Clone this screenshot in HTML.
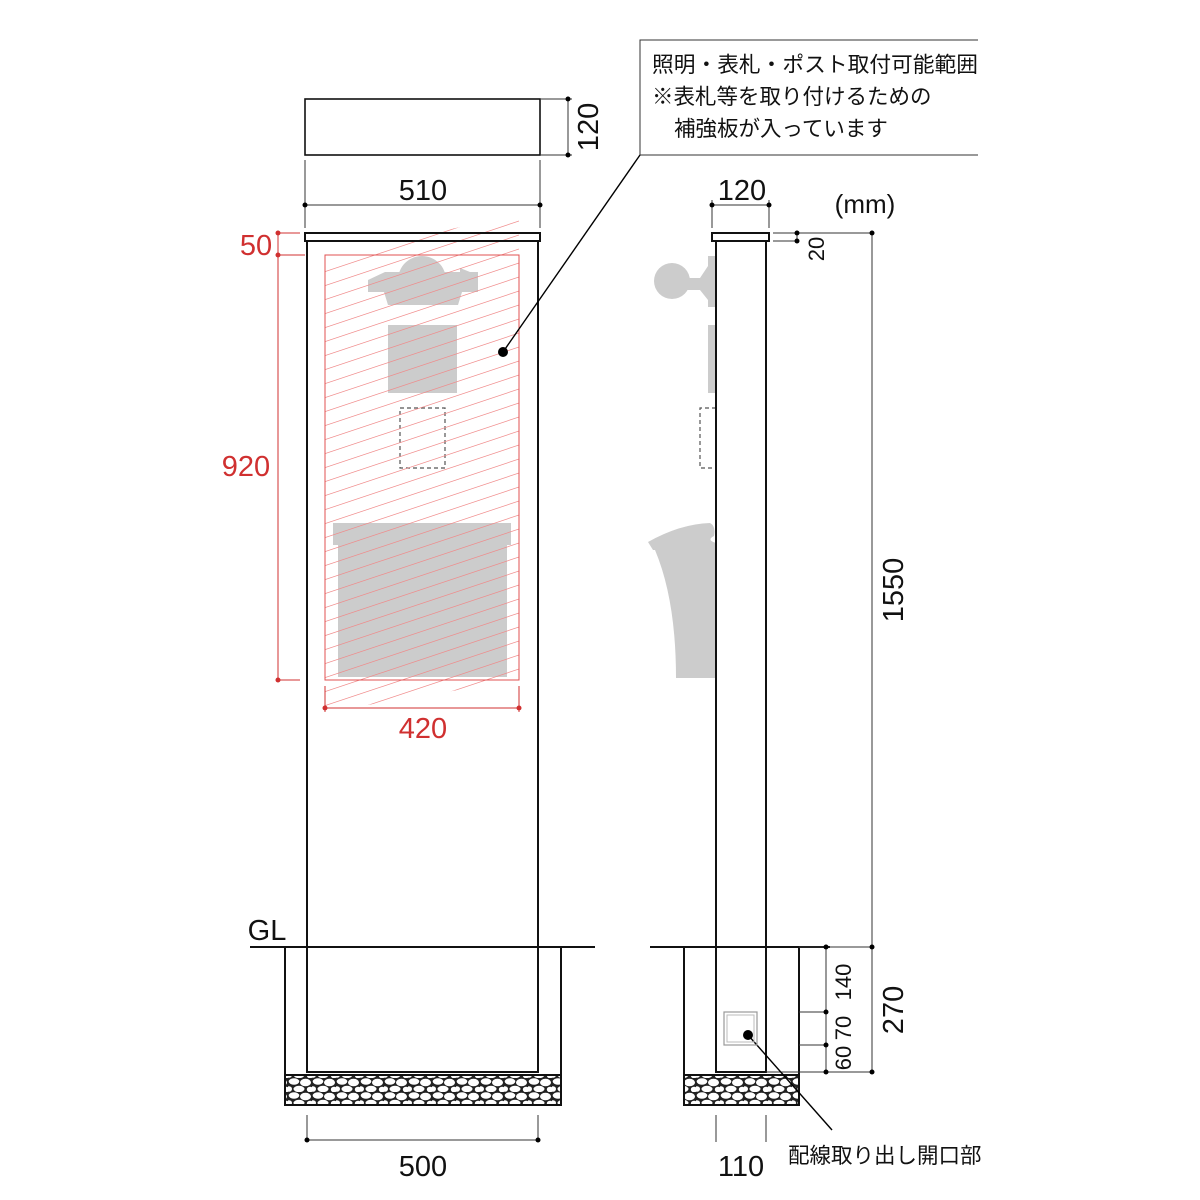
<!DOCTYPE html>
<html><head><meta charset="utf-8"><style>
body{margin:0;background:#fff}
svg{display:block}
text{font-family:"Liberation Sans","Noto Sans CJK JP",sans-serif}
</style></head><body>
<svg width="1200" height="1200" viewBox="0 0 1200 1200" xmlns="http://www.w3.org/2000/svg">
<defs>
<clipPath id="hc"><polygon points="325,255 519,215 519,680 325,712"/></clipPath>
<pattern id="gr" width="24" height="14" patternUnits="userSpaceOnUse">
<rect width="24" height="14" fill="#222"/>
<ellipse cx="6" cy="3.5" rx="5.3" ry="3.2" fill="#fff"/><ellipse cx="17.5" cy="4.5" rx="5.5" ry="3.8" fill="#fff"/>
<ellipse cx="11" cy="11" rx="5.5" ry="3.2" fill="#fff"/><ellipse cx="22" cy="11.5" rx="3.2" ry="2.8" fill="#fff"/>
<ellipse cx="1" cy="11" rx="3" ry="2.8" fill="#fff"/>
</pattern>
</defs>
<g fill="#ccc">
<circle cx="422" cy="280" r="24"/>
<path d="M385,272 H460 V268 L470,272 H478 V292 H462 L458,305 H388 L384,292 H368 V280 Z"/>
<rect x="388" y="325" width="69" height="68"/>
<path d="M333,523 H511 V545 H507 V677 H338 V545 H333 Z"/>
<circle cx="672" cy="281" r="18"/>
<path d="M686,278 H700 L708,266 V256 H716 V307 H708 V300 L700,290 H686 Z"/>
<rect x="708" y="325" width="8" height="68"/>
<path d="M648,542 Q680,524 710,523 Q716,526 714,536 Q706,540 716,543 V678 H676 Q676,600 655,550 L653,550 Z"/>
</g>
<g fill="none" stroke="#555" stroke-dasharray="4,3" stroke-width="1.2">
<rect x="400" y="408" width="45" height="60"/>
<path d="M716,408 H700 V468 H716"/>
</g>
<g clip-path="url(#hc)" stroke="#f08a8a" stroke-width="0.7" fill="none">
<path d="M300,280 L540,200 M300,294 L540,214 M300,308 L540,228 M300,322 L540,242 M300,336 L540,256 M300,350 L540,270 M300,364 L540,284 M300,378 L540,298 M300,392 L540,312 M300,406 L540,326 M300,420 L540,340 M300,434 L540,354 M300,448 L540,368 M300,462 L540,382 M300,476 L540,396 M300,490 L540,410 M300,504 L540,424 M300,518 L540,438 M300,532 L540,452 M300,546 L540,466 M300,560 L540,480 M300,574 L540,494 M300,588 L540,508 M300,602 L540,522 M300,616 L540,536 M300,630 L540,550 M300,644 L540,564 M300,658 L540,578 M300,672 L540,592 M300,686 L540,606 M300,700 L540,620 M300,714 L540,634 M300,728 L540,648 M300,742 L540,662 M300,756 L540,676 M300,770 L540,690 M300,784 L540,704"/>
</g>
<rect x="325" y="255" width="194" height="425" fill="none" stroke="#e05050" stroke-width="1"/>
<g stroke="#111" fill="none" stroke-width="2">
<rect x="305" y="99" width="235" height="56" stroke-width="1.6"/>
<rect x="305" y="233" width="235" height="8"/>
<path d="M307,241 V1072 H538 V241"/>
<path d="M250,947 H595"/>
<path d="M285,947 V1077 M561,947 V1077"/>
<rect x="712" y="233" width="57" height="8"/>
<path d="M716,241 V1072 H766 V241"/>
<path d="M650,947 H830"/>
<path d="M684,947 V1077 M799,947 V1077"/>
</g>
<rect x="285" y="1075" width="276" height="30" fill="url(#gr)" stroke="#111" stroke-width="2"/>
<rect x="684" y="1075" width="115" height="30" fill="url(#gr)" stroke="#111" stroke-width="2"/>
<g stroke="#333" stroke-width="1" fill="none">
<path d="M540,99 H572 M540,155 H572 M568,99 V155"/>
<path d="M305,160 V228 M540,160 V228 M305,205 H540"/>
<path d="M307,1115 V1142 M538,1115 V1142 M307,1140 H538"/>
<path d="M712,200 V228 M769,200 V228 M712,205 H769"/>
<path d="M773,233 H872 M773,241 H797 M797,233 V241 M872,233 V1072"/>
<path d="M799,947 H872 M799,1012 H826 M799,1045 H826 M766,1072 H872 M826,947 V1072"/>
<path d="M716,1115 V1142 M766,1115 V1142"/>
<path d="M640,155 V40 H978 M640,155 H978"/>
<path d="M503,352 L640,155" stroke="#000" stroke-width="1.4"/>
<path d="M748,1035 L832,1130" stroke="#000" stroke-width="1.4"/>
</g>
<rect x="724" y="1012" width="33" height="33" fill="none" stroke="#999" stroke-width="1.2"/>
<rect x="727" y="1015" width="27" height="27" fill="none" stroke="#bbb" stroke-width="1"/>
<g fill="#000">
<circle cx="568" cy="99" r="2.5"/><circle cx="568" cy="155" r="2.5"/>
<circle cx="305" cy="205" r="2.5"/><circle cx="540" cy="205" r="2.5"/>
<circle cx="307" cy="1140" r="2.5"/><circle cx="538" cy="1140" r="2.5"/>
<circle cx="712" cy="205" r="2.5"/><circle cx="769" cy="205" r="2.5"/>
<circle cx="797" cy="233" r="2.5"/><circle cx="797" cy="241" r="2.5"/><circle cx="872" cy="233" r="2.5"/>
<circle cx="826" cy="947" r="2.5"/><circle cx="826" cy="1012" r="2.5"/><circle cx="826" cy="1045" r="2.5"/><circle cx="826" cy="1072" r="2.5"/>
<circle cx="872" cy="947" r="2.5"/><circle cx="872" cy="1072" r="2.5"/>
<circle cx="503" cy="352" r="5"/><circle cx="748" cy="1035" r="5"/>
</g>
<g stroke="#d03030" stroke-width="1" fill="none">
<path d="M278,233 V680 M278,233 H300 M278,255 H305 M278,680 H300"/>
<path d="M325,686 V712 M519,686 V712 M325,708 H519"/>
</g>
<g fill="#d03030">
<circle cx="278" cy="233" r="2.5"/><circle cx="278" cy="255" r="2.5"/><circle cx="278" cy="680" r="2.5"/>
<circle cx="325" cy="708" r="2.5"/><circle cx="519" cy="708" r="2.5"/>
</g>
<g font-size="29" fill="#d03030" text-anchor="middle">
<text x="256" y="255">50</text>
<text x="246" y="476">920</text>
<text x="423" y="738">420</text>
</g>
<g font-size="29" fill="#111" text-anchor="middle">
<text x="423" y="200">510</text>
<text x="742" y="200">120</text>
<text x="423" y="1176">500</text>
<text x="741" y="1176">110</text>
<text x="267" y="940">GL</text>
<text x="865" y="213" font-size="26">(mm)</text>
<text transform="translate(598,127) rotate(-90)">120</text>
<text transform="translate(903,590) rotate(-90)">1550</text>
<text transform="translate(903,1010) rotate(-90)">270</text>
<text transform="translate(824,249) rotate(-90)" font-size="22">20</text>
<text transform="translate(851,982) rotate(-90)" font-size="22">140</text>
<text transform="translate(851,1028) rotate(-90)" font-size="22">70</text>
<text transform="translate(851,1058) rotate(-90)" font-size="22">60</text>
</g>
<g font-size="21.5" fill="#111">
<text x="652" y="72" textLength="326" lengthAdjust="spacingAndGlyphs">照明・表札・ポスト取付可能範囲</text>
<text x="652" y="104">※表札等を取り付けるための</text>
<text x="674" y="136">補強板が入っています</text>
<text x="788" y="1163">配線取り出し開口部</text>
</g>
</svg>
</body></html>
